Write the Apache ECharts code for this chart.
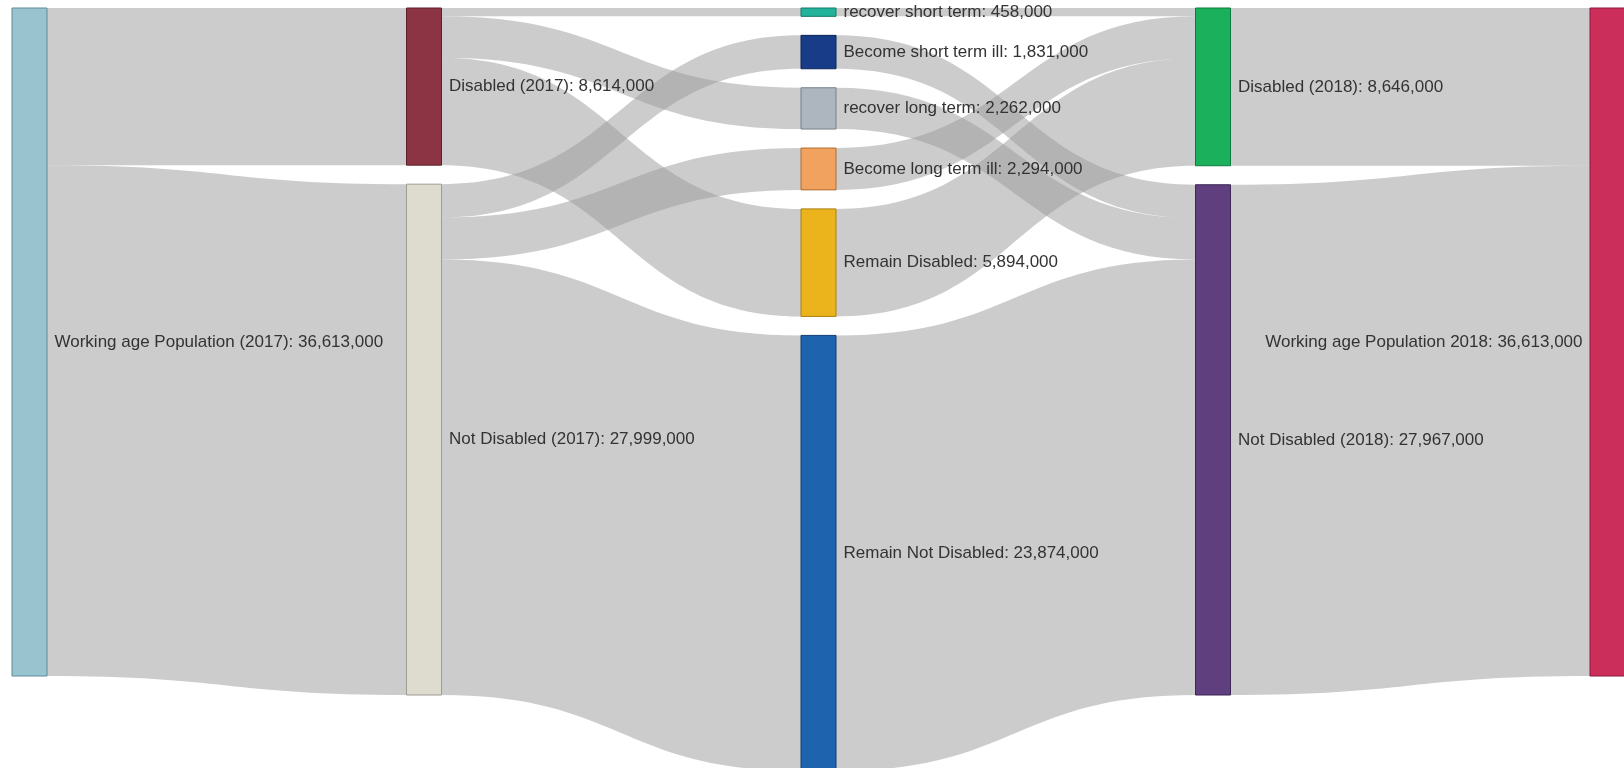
<!DOCTYPE html>
<html>
<head>
<meta charset="utf-8">
<title>Working age population disability flows 2017–2018</title>
<script src="https://cdn.jsdelivr.net/npm/echarts@6.0.0/dist/echarts.min.js"></script>
<style>
  html, body { margin: 0; padding: 0; background: #ffffff; }
  #chart { width: 1624px; height: 768px; }
</style>
</head>
<body>
<div id="chart"></div>
<script>
// Stages of the flow, listed column by column (top to bottom within each column)
const nodeNames = [
  'Working age Population (2017)',
  'Disabled (2017)',
  'Not Disabled (2017)',
  'recover short term',
  'Become short term ill',
  'recover long term',
  'Become long term ill',
  'Remain Disabled',
  'Remain Not Disabled',
  'Disabled (2018)',
  'Not Disabled (2018)',
  'Working age Population 2018'
];

// Flows between stages (people)
const flowSource = [
  'Working age Population (2017)', 'Working age Population (2017)',
  'Disabled (2017)', 'Disabled (2017)', 'Disabled (2017)',
  'Not Disabled (2017)', 'Not Disabled (2017)', 'Not Disabled (2017)',
  'recover short term', 'Become long term ill', 'Remain Disabled',
  'Become short term ill', 'recover long term', 'Remain Not Disabled',
  'Disabled (2018)', 'Not Disabled (2018)'
];
const flowTarget = [
  'Disabled (2017)', 'Not Disabled (2017)',
  'recover short term', 'recover long term', 'Remain Disabled',
  'Become short term ill', 'Become long term ill', 'Remain Not Disabled',
  'Disabled (2018)', 'Disabled (2018)', 'Disabled (2018)',
  'Not Disabled (2018)', 'Not Disabled (2018)', 'Not Disabled (2018)',
  'Working age Population 2018', 'Working age Population 2018'
];
const flowValue = [
  8614000, 27999000,
  458000, 2262000, 5894000,
  1831000, 2294000, 23874000,
  458000, 2294000, 5894000,
  1831000, 2262000, 23874000,
  8646000, 27967000
];

// Fill / outline colours for each stage, same order as nodeNames
const nodeFill = [
  '#98c3cf', '#8c3444', '#dedbcf', '#22b39a', '#183c87', '#adb6bf',
  '#f0a25e', '#ebb41c', '#1d63ad', '#1bb05c', '#5f3f7e', '#cc2e5b'
];
const nodeBorder = [
  '#5e8b98', '#5e1f2b', '#9d9b92', '#137a68', '#0c2458', '#77808a',
  '#b06e30', '#a9800e', '#0f3f75', '#0f7a3d', '#3d2755', '#8e1b3c'
];

function withCommas(n) {
  return String(Math.round(n)).replace(/\B(?=(\d{3})+(?!\d))/g, ',');
}

// Stage totals: the larger of inflow and outflow for each stage
const totals = {};
nodeNames.forEach(n => {
  let inSum = 0, outSum = 0;
  flowValue.forEach((v, i) => {
    if (flowTarget[i] === n) inSum += v;
    if (flowSource[i] === n) outSum += v;
  });
  totals[n] = Math.max(inSum, outSum);
});

const lastStage = nodeNames[nodeNames.length - 1];

const nodes = nodeNames.map((name, i) => ({
  name: name,
  value: totals[name],
  itemStyle: { color: nodeFill[i], borderColor: nodeBorder[i], borderWidth: 1 },
  label: name === lastStage ? { position: 'left' } : { position: 'right' }
}));

const links = flowValue.map((v, i) => ({
  source: flowSource[i],
  target: flowTarget[i],
  value: v
}));

const chart = echarts.init(document.getElementById('chart'), null, { renderer: 'canvas' });

chart.setOption({
  animation: false,
  backgroundColor: '#ffffff',
  series: [{
    type: 'sankey',
    left: 12,
    right: -1,
    top: 8,
    bottom: -3,
    nodeWidth: 35,
    nodeGap: 19,
    layoutIterations: 0,
    nodeAlign: 'justify',
    draggable: false,
    emphasis: { disabled: true },
    data: nodes,
    links: links,
    lineStyle: {
      color: '#999999',
      opacity: 0.5,
      curveness: 0.5
    },
    label: {
      show: true,
      distance: 7,
      color: '#333333',
      fontFamily: '"Liberation Sans", Arial, sans-serif',
      fontSize: 17,
      textBorderWidth: 0,
      formatter: p => p.name + ': ' + withCommas(p.value)
    }
  }]
});
</script>
</body>
</html>
